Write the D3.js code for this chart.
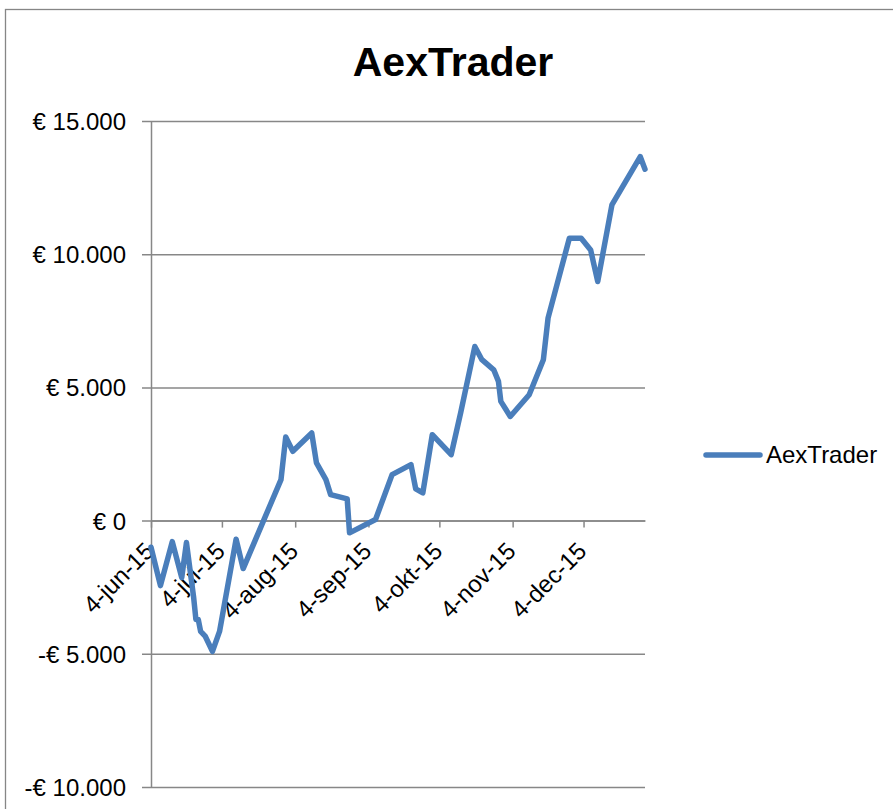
<!DOCTYPE html>
<html>
<head>
<meta charset="utf-8">
<script src="https://cdn.jsdelivr.net/npm/d3@7"></script>
<style>
  html, body { margin: 0; padding: 0; background: #ffffff; }
  svg { display: block; }
  text { font-family: "Liberation Sans", Arial, sans-serif; fill: #000; }
</style>
</head>
<body>
<svg id="chart" width="893" height="809"></svg>
<script>
// ---------- data ----------
const title = "AexTrader";
const seriesName = "AexTrader";
const dates = [
  "2015-06-04","2015-06-08","2015-06-13","2015-06-17","2015-06-19","2015-06-22",
  "2015-06-23","2015-06-24","2015-06-25","2015-06-27","2015-06-30","2015-07-03",
  "2015-07-10","2015-07-13","2015-07-29","2015-07-31","2015-08-03","2015-08-11",
  "2015-08-13","2015-08-17","2015-08-19","2015-08-26","2015-08-27","2015-09-07",
  "2015-09-14","2015-09-22","2015-09-24","2015-09-27","2015-10-01","2015-10-09",
  "2015-10-13","2015-10-19","2015-10-22","2015-10-27","2015-10-29","2015-10-30",
  "2015-11-03","2015-11-11","2015-11-17","2015-11-19","2015-11-28","2015-12-03",
  "2015-12-07","2015-12-10","2015-12-16","2015-12-28","2015-12-30"
];
const values = [
  -1000, -2440, -790, -2140, -825, -2850,
  -3710, -3710, -4160, -4350, -4910, -4160,
  -700, -1800, 1540, 3140, 2600, 3290,
  2165, 1540, 975, 815, -460, 40,
  1725, 2100, 1190, 1040, 3225, 2475,
  4040, 6535, 6040, 5660, 5225, 4475,
  3910, 4725, 6040, 7610, 10600, 10600,
  10160, 8975, 11850, 13660, 13190
];
const xTickDates = ["2015-06-04","2015-07-04","2015-08-04","2015-09-04","2015-10-04","2015-11-04","2015-12-04"];
const xTickLabels = ["4-jun-15","4-jul-15","4-aug-15","4-sep-15","4-okt-15","4-nov-15","4-dec-15"];
const yTickValues = [15000, 10000, 5000, 0, -5000, -10000];
const yTickLabels = ["€ 15.000","€ 10.000","€ 5.000","€ 0","-€ 5.000","-€ 10.000"];
const xDomain = ["2015-06-04", "2015-12-30"];
const yDomain = [-10000, 15000];

// ---------- layout ----------
const svg = d3.select("#chart");
const plot = { left: 151, right: 645, top: 121, bottom: 787 };
const lineColor = "#4A7EBB";
const gridColor = "#878787";
const parse = d3.utcParse("%Y-%m-%d");

const x = d3.scaleUtc().domain(xDomain.map(parse)).range([plot.left, plot.right]);
const y = d3.scaleLinear().domain(yDomain).range([plot.bottom, plot.top]);

// outer chart border (extends off the right/bottom of the picture)
svg.append("rect")
  .attr("x", 5.5).attr("y", 9.5).attr("width", 1000).attr("height", 1000)
  .attr("fill", "none").attr("stroke", "#868686").attr("stroke-width", 1.3);

// title
svg.append("text")
  .attr("x", 453).attr("y", 76)
  .attr("text-anchor", "middle")
  .style("font-size", "41px").style("font-weight", "bold")
  .text(title);

// y axis with gridlines
const yAxis = d3.axisLeft(y)
  .tickValues(yTickValues)
  .tickSize(-(plot.right - plot.left))
  .tickSizeOuter(0)
  .tickPadding(0)
  .tickFormat((d, i) => yTickLabels[i]);
const gy = svg.append("g").attr("transform", `translate(${plot.left},0)`).call(yAxis);
gy.select(".domain").attr("stroke", gridColor).attr("stroke-width", 1.5);
gy.selectAll(".tick line").attr("stroke", gridColor).attr("stroke-width", 1.5).attr("x1", -9);
gy.selectAll(".tick text")
  .attr("x", -25).attr("dy", "0.35em")
  .style("font-size", "24px").style("font-family", "'Liberation Sans', Arial, sans-serif")
  .attr("fill", "#000");

// x axis at zero line
const xAxis = d3.axisBottom(x)
  .tickValues(xTickDates.map(parse))
  .tickSize(7)
  .tickSizeOuter(0)
  .tickFormat((d, i) => xTickLabels[i]);
const gx = svg.append("g").attr("transform", `translate(0,${y(0)})`).call(xAxis);
gx.select(".domain").attr("stroke", gridColor).attr("stroke-width", 1.5);
gx.selectAll(".tick line").attr("stroke", gridColor).attr("stroke-width", 1.5);
gx.selectAll(".tick text")
  .attr("y", 0).attr("dy", 0)
  .attr("text-anchor", "end")
  .attr("transform", "translate(4,32) rotate(-45)")
  .style("font-size", "24px").style("font-family", "'Liberation Sans', Arial, sans-serif")
  .attr("fill", "#000");

// series line
const data = dates.map((d, i) => ({ date: parse(d), value: values[i] }));
const line = d3.line().x(d => x(d.date)).y(d => y(d.value));
svg.append("path")
  .datum(data)
  .attr("d", line)
  .attr("fill", "none")
  .attr("stroke", lineColor)
  .attr("stroke-width", 5.5)
  .attr("stroke-linejoin", "round")
  .attr("stroke-linecap", "round");

// legend
const legend = svg.append("g").attr("transform", "translate(706,455)");
legend.append("line")
  .attr("x1", 0).attr("x2", 54).attr("y1", 0).attr("y2", 0)
  .attr("stroke", lineColor).attr("stroke-width", 5.5).attr("stroke-linecap", "round");
legend.append("text")
  .attr("x", 60).attr("y", 0).attr("dy", "0.35em")
  .style("font-size", "24px")
  .text(seriesName);
</script>
</body>
</html>
